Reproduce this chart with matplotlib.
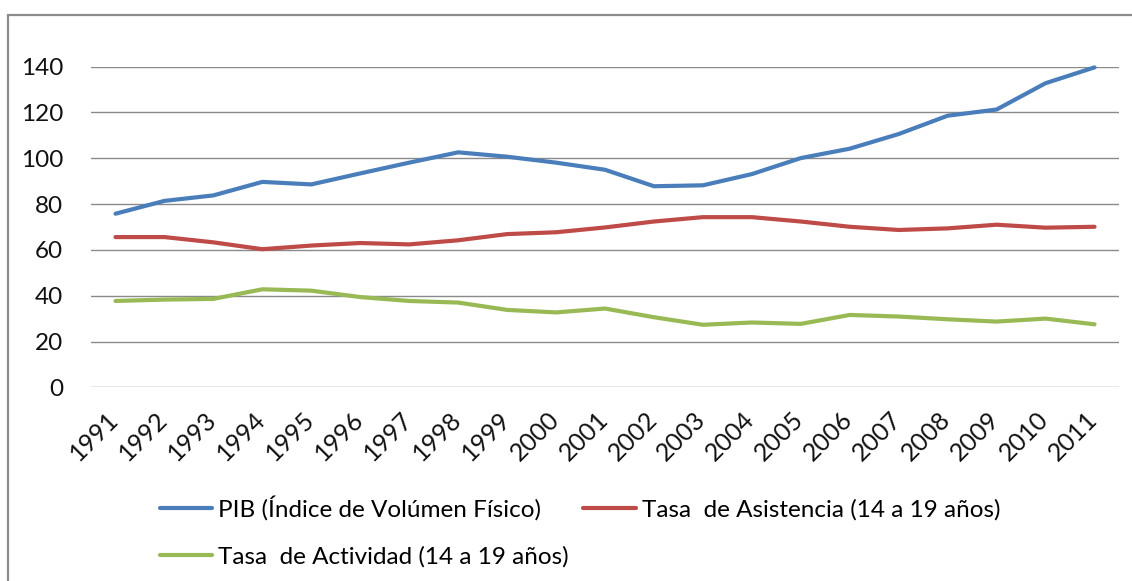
import matplotlib
matplotlib.use("Agg")
import matplotlib.pyplot as plt
from matplotlib.patches import Rectangle
from matplotlib.transforms import ScaledTranslation

years = [str(y) for y in range(1991, 2012)]

pib = [75.8, 81.4, 83.8, 89.7, 88.6, 93.4, 98.1, 102.6, 100.7, 98.1, 95.0,
       87.8, 88.2, 93.1, 100.1, 104.2, 110.6, 118.6, 121.3, 132.8, 139.7]
asistencia = [65.6, 65.6, 63.3, 60.3, 61.9, 63.0, 62.4, 64.2, 66.9, 67.7, 69.8,
              72.4, 74.3, 74.3, 72.4, 70.1, 68.7, 69.4, 71.0, 69.7, 70.1]
actividad = [37.7, 38.3, 38.6, 42.8, 42.2, 39.4, 37.7, 37.0, 33.8, 32.7, 34.4,
             30.6, 27.3, 28.3, 27.7, 31.6, 30.9, 29.7, 28.7, 30.0, 27.5]

labels = [
    "PIB (Índice de Volúmen Físico)",
    "Tasa  de Asistencia (14 a 19 años)",
    "Tasa  de Actividad (14 a 19 años)",
]
colors = ["#4A7EBB", "#BE4B48", "#98B954"]
y_ticks = [0, 20, 40, 60, 80, 100, 120, 140]

plt.rcParams["font.family"] = ["Lato", "DejaVu Sans"]
FS = 17.5

W, H = 1132, 581
fig = plt.figure(figsize=(W / 100, H / 100), dpi=100)

# outer chart frame, open on the right and bottom
fig.patches.append(Rectangle((8 / W, -0.1), 1.2, 1 - 15 / H + 0.1,
                             transform=fig.transFigure, fill=False,
                             edgecolor="#8C8C8C", linewidth=1.6))

ax = fig.add_axes([91 / W, 1 - 387.3 / H, (1119 - 91) / W, (387.3 - 66.7) / H])
x = list(range(len(years)))

lines = []
for series, color, label in zip([pib, asistencia, actividad], colors, labels):
    (ln,) = ax.plot(x, series, color=color, linewidth=3.0, label=label,
                    solid_capstyle="round", solid_joinstyle="round",
                    clip_on=False, zorder=3)
    lines.append(ln)

ax.set_xlim(-0.5, len(years) - 0.5)
ax.set_ylim(0, 140)
ax.set_yticks(y_ticks)
ax.yaxis.grid(True, color="#8A8A8A", linewidth=1.0)
ax.set_axisbelow(True)
for side in ["top", "right", "left", "bottom"]:
    ax.spines[side].set_visible(False)

ax.tick_params(axis="y", length=0, pad=20, labelsize=FS, labelcolor="#111111")
ax.set_xticks(x)
ax.set_xticklabels(years, rotation=45, ha="right", va="top",
                   rotation_mode="anchor", fontsize=18, color="#111111")
ax.tick_params(axis="x", length=0, pad=14.4)
# nudge the rotated year labels so their ends sit just under each category
shift = ScaledTranslation(-9 / 100, 0, fig.dpi_scale_trans)
for lbl in ax.get_xticklabels():
    lbl.set_transform(lbl.get_transform() + shift)

# legend filled row-wise: PIB and Asistencia on top, Actividad below
fig.legend([lines[0], lines[2], lines[1]], [labels[0], labels[2], labels[1]],
           ncol=2, loc="upper left", bbox_to_anchor=(150 / W, 1 - 486 / H),
           frameon=False, fontsize=FS, handlelength=2.15, handletextpad=0.25,
           columnspacing=0.6, labelspacing=1.05, borderaxespad=0)

fig.savefig("out.png", dpi=100)
